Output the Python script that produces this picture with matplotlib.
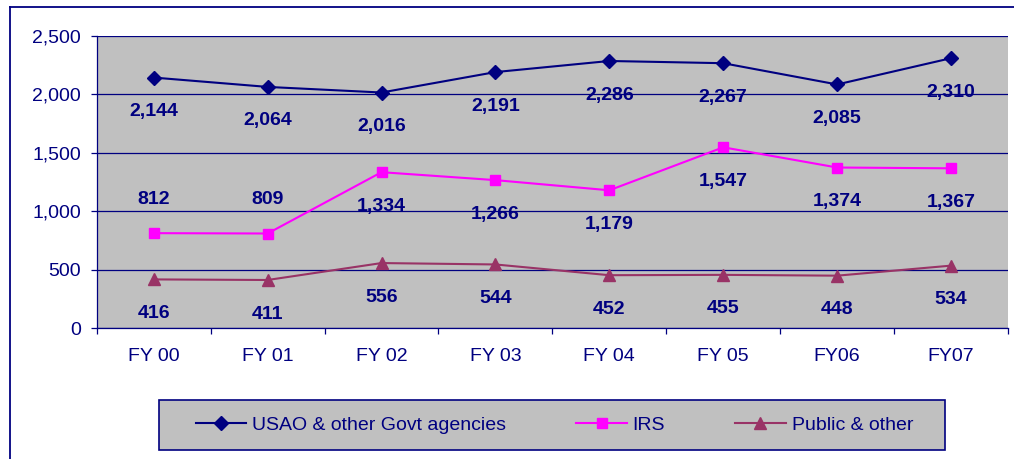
import matplotlib
matplotlib.use("Agg")
import matplotlib.pyplot as plt
from matplotlib.patches import Rectangle
from matplotlib.lines import Line2D
from matplotlib.ticker import FuncFormatter, FixedLocator

years = ["FY 00", "FY 01", "FY 02", "FY 03", "FY 04", "FY 05", "FY06", "FY07"]
usao = [2144, 2064, 2016, 2191, 2286, 2267, 2085, 2310]
irs = [812, 809, 1334, 1266, 1179, 1547, 1374, 1367]
public = [416, 411, 556, 544, 452, 455, 448, 534]
# data labels sit below the point, except the first two IRS labels (above)
irs_label_above = [True, True, False, False, False, False, False, False]

navy = "#000080"
plt.rcParams["font.family"] = ["Liberation Sans", "DejaVu Sans"]
plt.rcParams["font.size"] = 14

fig = plt.figure(figsize=(10.14, 4.59), dpi=100)
ax = fig.add_axes([0.0954, 0.2854, 0.8987, 0.6362])
ax.set_facecolor("#C0C0C0")

x = list(range(len(years)))
series = [
    ("USAO & other Govt agencies", usao, navy, "D", 7.5),
    ("IRS", irs, "#FF00FF", "s", 7.5),
    ("Public & other", public, "#993366", "^", 9),
]
for name, vals, col, mk, ms in series:
    ax.plot(x, vals, color=col, lw=1.5, marker=mk, ms=ms, label=name, zorder=3)

off = 24.5
for name, vals, col, mk, ms in series:
    for i, v in enumerate(vals):
        dy = -off
        if name == "IRS" and irs_label_above[i]:
            dy = off
        ax.annotate(f"{v:,}", (i, v), xytext=(0, dy), textcoords="offset points",
                    ha="center", va="center", fontsize=14, fontweight="bold",
                    color=navy, zorder=4)

ax.set_xlim(-0.5, len(years) - 0.5)
ax.set_ylim(0, 2500)
ax.set_yticks(range(0, 2501, 500))
ax.yaxis.set_major_formatter(FuncFormatter(lambda v, p: f"{int(v):,}"))
ax.grid(axis="y", color=navy, lw=0.9, zorder=1)
ax.set_axisbelow(True)

ax.set_xticks(x)
ax.set_xticklabels(years)
ax.xaxis.set_minor_locator(FixedLocator([i - 0.5 for i in range(len(years) + 1)]))
ax.tick_params(axis="x", which="major", length=0, pad=14.5, labelcolor=navy, labelsize=14)
ax.tick_params(axis="x", which="minor", length=4.5, color=navy, width=0.9)
ax.tick_params(axis="y", length=4.5, color=navy, width=0.9, pad=7, labelcolor=navy, labelsize=14)

for s in ["top", "right"]:
    ax.spines[s].set_visible(False)
for s in ["left", "bottom"]:
    ax.spines[s].set_color(navy)
    ax.spines[s].set_linewidth(0.9)

# outer chart border (top and left edges visible)
fig.add_artist(Line2D([10 / 1014, 1], [1 - 7 / 459, 1 - 7 / 459],
                      transform=fig.transFigure, color=navy, lw=1.3))
fig.add_artist(Line2D([10 / 1014, 10 / 1014], [0, 1 - 7 / 459],
                      transform=fig.transFigure, color=navy, lw=1.3))

# legend box
fig.add_artist(Rectangle((159 / 1014, 9 / 459), 786 / 1014, 50 / 459,
                         transform=fig.transFigure, facecolor="#C0C0C0",
                         edgecolor=navy, lw=1.2))
leg = fig.legend(loc="center", bbox_to_anchor=(554.5 / 1014, 34 / 459), ncol=3,
                 frameon=False, handlelength=2.6, handletextpad=0.3,
                 columnspacing=3.6, fontsize=14)
for t in leg.get_texts():
    t.set_color(navy)

fig.savefig("out.png", dpi=100)
